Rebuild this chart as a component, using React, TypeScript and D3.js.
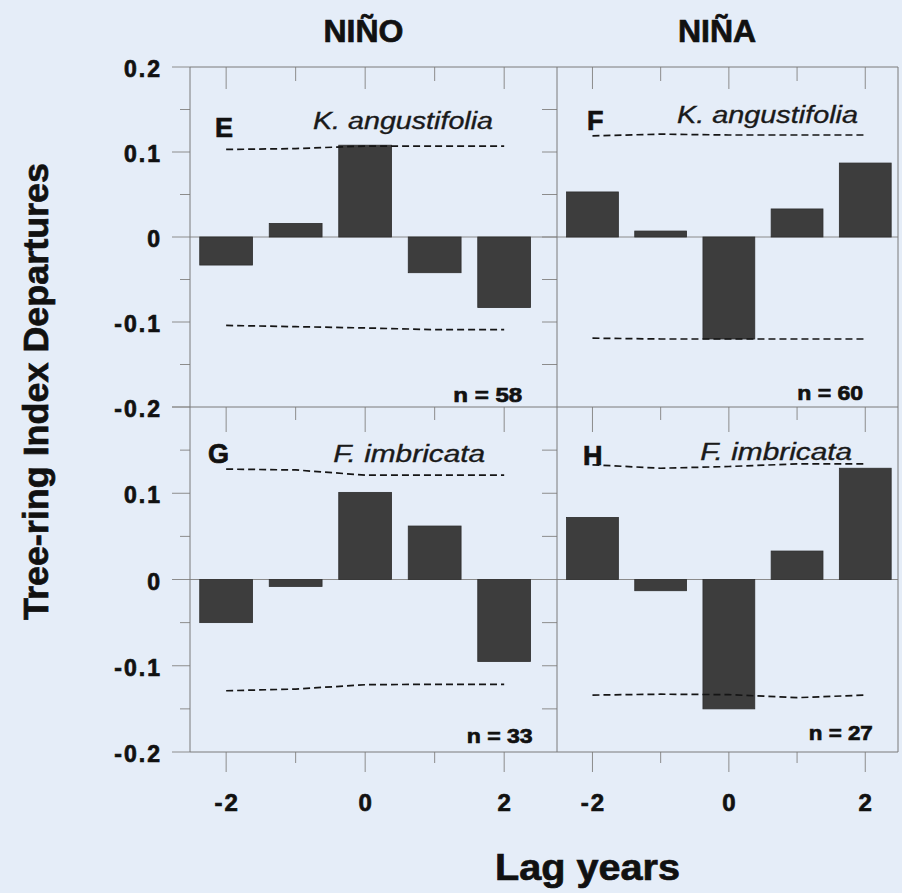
import React from "react";
import * as d3 from "d3";

// ---------- data ----------
const LAGS = [-2, -1, 0, 1, 2];
const COLUMN_TITLES = ["NIÑO", "NIÑA"];
const PANEL_IDS = ["E", "F", "G", "H"];
const SPECIES = ["K. angustifolia", "K. angustifolia", "F. imbricata", "F. imbricata"];
const SAMPLE_SIZES = [58, 60, 33, 27];

const VALUES_E = [-0.033, 0.016, 0.108, -0.042, -0.083];
const VALUES_F = [0.053, 0.007, -0.12, 0.033, 0.087];
const VALUES_G = [-0.05, -0.008, 0.101, 0.062, -0.095];
const VALUES_H = [0.072, -0.013, -0.15, 0.033, 0.129];

const UPPER_E = [0.103, 0.104, 0.107, 0.107, 0.107];
const LOWER_E = [-0.104, -0.1055, -0.107, -0.109, -0.109];
const UPPER_F = [0.119, 0.121, 0.12, 0.12, 0.12];
const LOWER_F = [-0.119, -0.12, -0.12, -0.12, -0.12];
const UPPER_G = [0.128, 0.127, 0.121, 0.121, 0.121];
const LOWER_G = [-0.129, -0.127, -0.122, -0.1215, -0.1215];
const UPPER_H = [0.133, 0.129, 0.131, 0.134, 0.134];
const LOWER_H = [-0.134, -0.133, -0.1335, -0.137, -0.134];

const Y_TICK_VALUES = [0.2, 0.1, 0, -0.1, -0.2];
const X_TICK_VALUES = [-2, 0, 2];
const Y_TITLE = "Tree-ring Index Departures";
const X_TITLE = "Lag years";

const PANEL_VALUES = [VALUES_E, VALUES_F, VALUES_G, VALUES_H];
const PANEL_UPPER = [UPPER_E, UPPER_F, UPPER_G, UPPER_H];
const PANEL_LOWER = [LOWER_E, LOWER_F, LOWER_G, LOWER_H];

// ---------- layout ----------
const W = 902;
const H = 893;
const BG = "#e5edf8";
const FONT = "'Liberation Sans', Arial, Helvetica, sans-serif";
const INK = "#111";
const COLS = [
  { x0: 190, x1: 557, domain: [-2.52, 2.76] },
  { x0: 557, x1: 898, domain: [-2.52, 2.48] },
];
const ROWS = [
  { y0: 67, y1: 407 },
  { y0: 407, y1: 752 },
];
// label anchors in data units (lag, value) per panel
const LABEL_POS = [
  { id: [-2.16, 0.118], sp: [-0.75, 0.127], n: [2.26, -0.194], spLen: 180, nLen: 69 },
  { id: [-2.08, 0.126], sp: [-0.76, 0.134], n: [1.97, -0.192], spLen: 181, nLen: 66 },
  { id: [-2.26, 0.135], sp: [-0.46, 0.136], n: [2.41, -0.19], spLen: 152, nLen: 66 },
  { id: [-2.14, 0.133], sp: [-0.42, 0.139], n: [2.11, -0.186], spLen: 152, nLen: 64 },
];

const FRAME = "#7a7a7a";
const TICK = "#8c8c8c";
const heavy = { stroke: INK, strokeWidth: 0.7, paintOrder: "stroke" } as const;

function Panel({ idx }: { idx: number }) {
  const col = COLS[idx % 2];
  const row = ROWS[Math.floor(idx / 2)];
  const xs = d3.scaleLinear().domain(col.domain).range([col.x0, col.x1]);
  const ys = d3.scaleLinear().domain([-0.2, 0.2]).range([row.y1, row.y0]);
  const bw = 0.76 * (xs(1) - xs(0));
  const vals = PANEL_VALUES[idx];
  const line = d3
    .line<number>()
    .x((_, i) => xs(LAGS[i]))
    .y((d) => ys(d));
  const lp = LABEL_POS[idx];
  return (
    <g>
      <line x1={col.x0} x2={col.x1} y1={ys(0)} y2={ys(0)} stroke="#8a8a8a" strokeWidth={1} />
      {vals.map((v, i) => (
        <rect
          key={i}
          x={xs(LAGS[i]) - bw / 2}
          y={ys(Math.max(0, v))}
          width={bw}
          height={Math.abs(ys(v) - ys(0))}
          fill="#3d3d3d"
          stroke="#2e2e2e"
          strokeWidth={0.8}
        />
      ))}
      <path d={line(PANEL_UPPER[idx]) || ""} fill="none" stroke="#151515" strokeWidth={1.7} strokeDasharray="7 4" />
      <path d={line(PANEL_LOWER[idx]) || ""} fill="none" stroke="#151515" strokeWidth={1.7} strokeDasharray="7 4" />
      <text x={xs(lp.id[0])} y={ys(lp.id[1])} fontFamily={FONT} fontWeight="bold" fontSize={27} fill={INK} {...heavy}>
        {PANEL_IDS[idx]}
      </text>
      <text
        x={xs(lp.sp[0])}
        y={ys(lp.sp[1])}
        fontFamily={FONT}
        fontStyle="italic"
        fontSize={23}
        fill="#1a1a1a"
        stroke="#1a1a1a"
        strokeWidth={0.35}
        textLength={lp.spLen}
        lengthAdjust="spacingAndGlyphs"
      >
        {SPECIES[idx]}
      </text>
      <text
        x={xs(lp.n[0]) - lp.nLen}
        y={ys(lp.n[1])}
        fontFamily={FONT}
        fontWeight="bold"
        fontSize={21}
        fill={INK}
        textLength={lp.nLen}
        lengthAdjust="spacingAndGlyphs"
        {...heavy}
      >
        {`n = ${SAMPLE_SIZES[idx]}`}
      </text>
    </g>
  );
}

function Frame() {
  const els: React.ReactNode[] = [];
  let k = 0;
  const minorY = d3.range(-0.2, 0.2001, 0.05);
  ROWS.forEach((row, ri) => {
    const ys = d3.scaleLinear().domain([-0.2, 0.2]).range([row.y1, row.y0]);
    minorY.forEach((v) => {
      const major = Math.abs(Math.round(v * 10) - v * 10) < 1e-6;
      const y = ys(v);
      els.push(<line key={k++} x1={190 - (major ? 18 : 10)} x2={190} y1={y} y2={y} stroke={TICK} strokeWidth={1} />);
      if (Math.abs(v) < 0.199) {
        els.push(<line key={k++} x1={557 - 15} x2={557} y1={y} y2={y} stroke={TICK} strokeWidth={1} />);
      }
    });
    COLS.forEach((col) => {
      const xs = d3.scaleLinear().domain(col.domain).range([col.x0, col.x1]);
      LAGS.forEach((l) => {
        const major = l % 2 === 0;
        const x = xs(l);
        const len = ri === 0 ? (major ? 22 : 14) : major ? 25 : 13;
        els.push(<line key={k++} x1={x} x2={x} y1={row.y0} y2={row.y0 + len} stroke={TICK} strokeWidth={1} />);
        if (ri === 1) {
          const blen = major ? 20 : 11;
          els.push(<line key={k++} x1={x} x2={x} y1={row.y1} y2={row.y1 + blen} stroke={TICK} strokeWidth={1} />);
        }
      });
    });
  });
  const x0 = COLS[0].x0;
  const x1 = COLS[1].x1;
  [ROWS[0].y0, ROWS[1].y0, ROWS[1].y1].forEach((y) =>
    els.push(<line key={k++} x1={x0} x2={x1} y1={y} y2={y} stroke={FRAME} strokeWidth={1} />)
  );
  [COLS[0].x0, COLS[1].x0, COLS[1].x1].forEach((x) =>
    els.push(<line key={k++} x1={x} x2={x} y1={ROWS[0].y0} y2={ROWS[1].y1} stroke={FRAME} strokeWidth={1} />)
  );
  return <g>{els}</g>;
}

function Labels() {
  const els: React.ReactNode[] = [];
  let k = 0;
  ROWS.forEach((row, ri) => {
    const ys = d3.scaleLinear().domain([-0.2, 0.2]).range([row.y1, row.y0]);
    Y_TICK_VALUES.forEach((v) => {
      if (ri === 1 && v === 0.2) return;
      els.push(
        <text
          key={k++}
          x={162}
          y={ys(v) + 10}
          textAnchor="end"
          fontFamily={FONT}
          fontWeight="bold"
          fontSize={23}
          letterSpacing={2}
          fill={INK}
          {...heavy}
        >
          {v === 0 ? "0" : String(v)}
        </text>
      );
    });
  });
  COLS.forEach((col, ci) => {
    const xs = d3.scaleLinear().domain(col.domain).range([col.x0, col.x1]);
    X_TICK_VALUES.forEach((t) => {
      els.push(
        <text
          key={k++}
          x={xs(t) + 1}
          y={811}
          textAnchor="middle"
          fontFamily={FONT}
          fontWeight="bold"
          fontSize={24}
          letterSpacing={2}
          fill={INK}
          {...heavy}
        >
          {String(t)}
        </text>
      );
    });
    els.push(
      <text
        key={k++}
        x={ci === 0 ? 363.5 : 717}
        y={42}
        textAnchor="middle"
        fontFamily={FONT}
        fontWeight="bold"
        fontSize={32}
        fill={INK}
        {...heavy}
      >
        {COLUMN_TITLES[ci]}
      </text>
    );
  });
  els.push(
    <text
      key={k++}
      transform="translate(48,391.5) rotate(-90)"
      textAnchor="middle"
      fontFamily={FONT}
      fontWeight="bold"
      fontSize={35}
      fill={INK}
      textLength={457}
      lengthAdjust="spacingAndGlyphs"
      {...heavy}
    >
      {Y_TITLE}
    </text>
  );
  els.push(
    <text
      key={k++}
      x={587.5}
      y={880}
      textAnchor="middle"
      fontFamily={FONT}
      fontWeight="bold"
      fontSize={37}
      fill={INK}
      textLength={185}
      lengthAdjust="spacingAndGlyphs"
      {...heavy}
    >
      {X_TITLE}
    </text>
  );
  return <g>{els}</g>;
}

export default function App() {
  return (
    <svg
      width={W}
      height={H}
      viewBox={`0 0 ${W} ${H}`}
      style={{ position: "absolute", left: 0, top: 0, display: "block" }}
    >
      <rect x={0} y={0} width={W} height={H} fill={BG} />
      {PANEL_IDS.map((_, i) => (
        <Panel key={i} idx={i} />
      ))}
      <Frame />
      <Labels />
    </svg>
  );
}
